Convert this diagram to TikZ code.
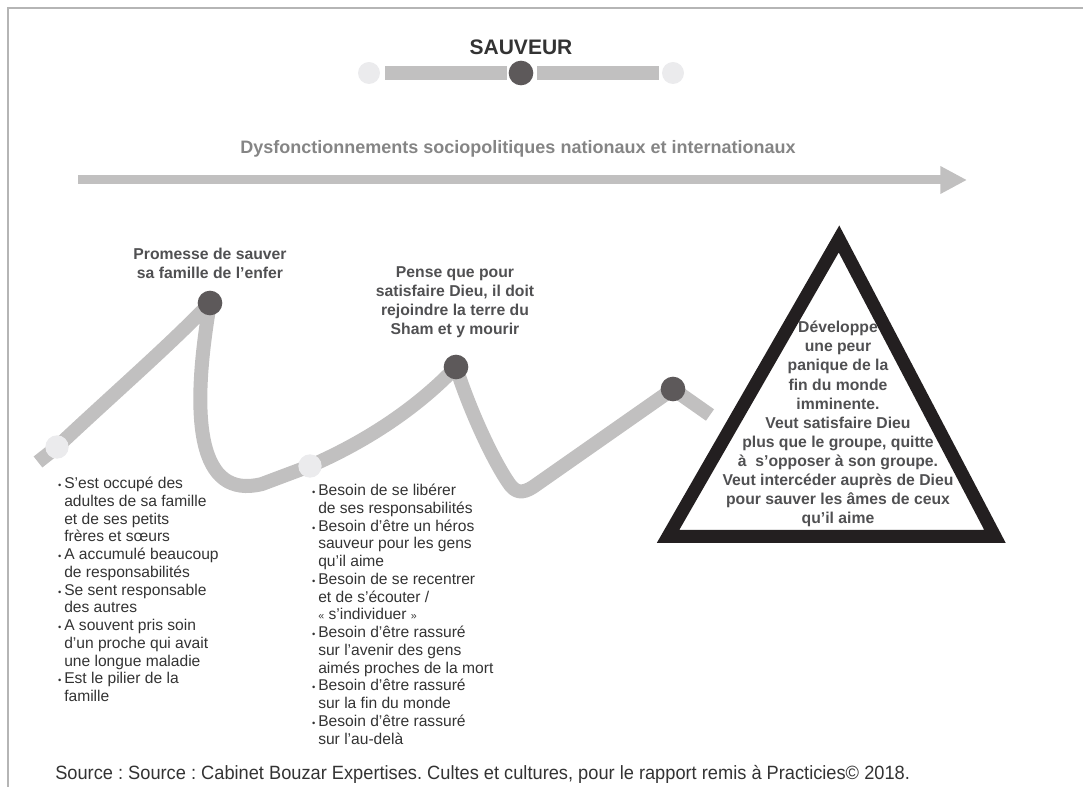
\documentclass[tikz,border=0pt]{standalone}
\usepackage{fontspec}
\setmainfont{Liberation Sans}
\usetikzlibrary{arrows.meta}
\pgfdeclarelayer{bg}
\pgfsetlayers{bg,main}
\definecolor{pathgray}{HTML}{C1C0C0}
\definecolor{darkdot}{HTML}{5D595A}
\definecolor{lightdot}{HTML}{EBEBED}
\definecolor{framegray}{HTML}{B5B5B5}
\definecolor{labelgray}{HTML}{505052}
\definecolor{textdark}{HTML}{333333}
\definecolor{subgray}{HTML}{858585}
\definecolor{trianglec}{HTML}{231F20}
\newcommand\bul{\llap{{\fontsize{7}{7}\selectfont •}\hspace{2.2pt}}}
\begin{document}
\begin{tikzpicture}[x=0.75pt,y=-0.75pt,
  darknode/.style={circle, fill=darkdot, draw=none, minimum size=18.5pt, inner sep=0pt},
  lightnode/.style={circle, fill=lightdot, draw=none, minimum size=17.5pt, inner sep=0pt},
  zig/.style={pathgray, line width=10.5pt, line cap=butt, line join=round},
  bar/.style={pathgray, line width=10.5pt, line cap=butt},
  lbl/.style={labelgray, align=center, inner sep=0pt, font=\bfseries\fontsize{11.8}{14.3}\selectfont},
  bullets/.style={textdark, align=left, inner sep=0pt, anchor=north west, font=\fontsize{11.7}{13.3}\selectfont}
]
\useasboundingbox (0,0) rectangle (1083,787);
% frame
\draw[framegray, line width=1.5pt] (8,787) -- (8,8) -- (1083,8);

% title
\node[textdark, inner sep=0pt, font=\bfseries\fontsize{15.75}{18}\selectfont] (title) at (521,47) {SAUVEUR};
\node[lightnode, minimum size=16.5pt] (t1) at (369,73) {};
\node[darknode] (t2) at (521,73) {};
\node[lightnode, minimum size=16.5pt] (t3) at (673,73) {};
\begin{pgfonlayer}{bg}
\draw[bar] (385,73) -- (507,73);
\draw[bar] (537,73) -- (659,73);
\end{pgfonlayer}

% subtitle and arrow
\node[subgray, inner sep=0pt, font=\bfseries\fontsize{13.5}{16}\selectfont] (sub) at (518,149) {Dysfonctionnements sociopolitiques nationaux et internationaux};
\coordinate (a0) at (78,180);
\coordinate (a1) at (967,180);
\draw[pathgray, line width=6.75pt, -{Triangle[length=20pt,width=19.5pt]}] (a0) -- (a1);

% dots
\coordinate (s0) at (38,462);
\node[lightnode] (d1) at (57,447) {};
\node[darknode] (d2) at (210,303) {};
\node[lightnode] (d3) at (310,466) {};
\node[darknode] (d4) at (456,367) {};
\node[darknode] (d5) at (673,389) {};
\coordinate (e0) at (710,415);

\begin{pgfonlayer}{bg}
\draw[zig] (s0) -- (d1.center)
  .. controls (110,397) and (170,345) .. (d2.center)
  .. controls (190,420) and (198,500) .. (262,484)
  -- (d3.center)
  .. controls (370,440) and (420,405) .. (d4.center)
  .. controls (468,405) and (490,455) .. (508,482)
  .. controls (515,493) and (522,494) .. (533,487)
  -- (d5.center) -- (e0);
\end{pgfonlayer}

% labels
\node[lbl] (l1) at (210,263) {Promesse de sauver\\sa famille de l’enfer};
\node[lbl] (l2) at (455,302) {Pense que pour\\satisfaire Dieu, il doit\\rejoindre la terre du\\Sham et y mourir};

% triangle
\draw[trianglec, line width=9.75pt, line join=miter] (839,239) -- (668,536.5) -- (995,536.5) -- cycle;
\node[lbl] (tri) at (838,424) {Développe\\une peur\\panique de la\\fin du monde\\imminente.\\Veut satisfaire Dieu\\plus que le groupe, quitte\\à\ \ s’opposer à son groupe.\\Veut intercéder auprès de Dieu\\pour sauver les âmes de ceux\\qu’il aime};

% bullet lists
\node[bullets] (b1) at (64,477) {\bul S’est occupé des\\adultes de sa famille\\et de ses petits\\frères et sœurs\\\bul A accumulé beaucoup\\de responsabilités\\\bul Se sent responsable\\des autres\\\bul A souvent pris soin\\d’un proche qui avait\\une longue maladie\\\bul Est le pilier de la\\famille};
\node[bullets] (b2) at (318,484) {\bul Besoin de se libérer\\de ses responsabilités\\\bul Besoin d’être un héros\\sauveur pour les gens\\qu’il aime\\\bul Besoin de se recentrer\\et de s’écouter /\\{\fontsize{8}{8}\selectfont «} s’individuer {\fontsize{8}{8}\selectfont »}\\\bul Besoin d’être rassuré\\sur l’avenir des gens\\aimés proches de la mort\\\bul Besoin d’être rassuré\\sur la fin du monde\\\bul Besoin d’être rassuré\\sur l’au-delà};

% footer
\node[textdark, inner sep=0pt, anchor=base west] (src) at (55,780) {\resizebox{641pt}{10.6pt}{\frenchspacing\fontsize{14}{14}\selectfont Source : Source : Cabinet Bouzar Expertises. Cultes et cultures, pour le rapport remis à Practicies© 2018.}};
\end{tikzpicture}
\end{document}
